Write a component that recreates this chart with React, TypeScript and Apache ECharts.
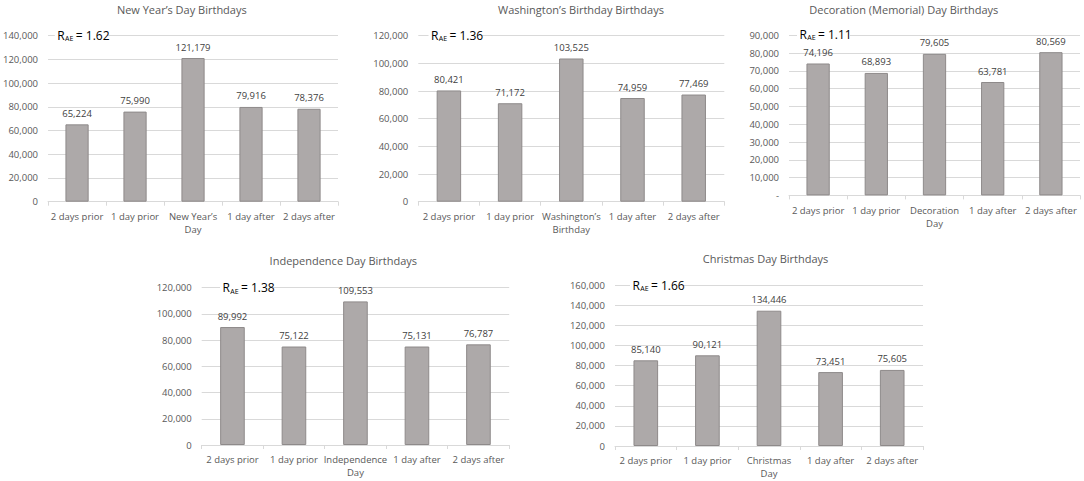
import React, { useEffect, useRef } from "react";
import * as echarts from "echarts";

const titles = [
  "New Year’s Day Birthdays",
  "Washington’s Birthday Birthdays",
  "Decoration (Memorial) Day Birthdays",
  "Independence Day Birthdays",
  "Christmas Day Birthdays",
];
const categories1 = ["2 days prior", "1 day prior", "New Year’s\nDay", "1 day after", "2 days after"];
const categories2 = ["2 days prior", "1 day prior", "Washington’s\nBirthday", "1 day after", "2 days after"];
const categories3 = ["2 days prior", "1 day prior", "Decoration\nDay", "1 day after", "2 days after"];
const categories4 = ["2 days prior", "1 day prior", "Independence\nDay", "1 day after", "2 days after"];
const categories5 = ["2 days prior", "1 day prior", "Christmas\nDay", "1 day after", "2 days after"];

const values1 = [65224, 75990, 121179, 79916, 78376];
const values2 = [80421, 71172, 103525, 74959, 77469];
const values3 = [74196, 68893, 79605, 63781, 80569];
const values4 = [89992, 75122, 109553, 75131, 76787];
const values5 = [85140, 90121, 134446, 73451, 75605];

const ratios = ["1.62", "1.36", "1.11", "1.38", "1.66"];
const yMax = [140000, 120000, 90000, 120000, 160000];
const yInterval = [20000, 20000, 10000, 20000, 20000];

const allCategories = [categories1, categories2, categories3, categories4, categories5];
const allValues = [values1, values2, values3, values4, values5];

// layout (px)
const grids = [
  { left: 47.7, top: 35.7, width: 290.3, height: 166 },
  { left: 418.3, top: 35.7, width: 306, height: 166 },
  { left: 789, top: 35.4, width: 291, height: 160 },
  { left: 201.7, top: 287.7, width: 307.5, height: 157.3 },
  { left: 615, top: 285, width: 308, height: 161 },
];
const titlePos = [
  [181.8, 9.5],
  [581, 9.5],
  [903.8, 9.5],
  [343.3, 260],
  [765.5, 258.5],
];
const ratioPos = [
  [57.3, 35.2],
  [431, 35.2],
  [799.5, 34.2],
  [222.5, 287.7],
  [632.5, 285],
];

const FONT = "'Open Sans', sans-serif";
const fmt = (v: number) => v.toLocaleString("en-US");

export default function App() {
  const ref = useRef<HTMLDivElement>(null);
  useEffect(() => {
    document.body.style.margin = "0";
    const chart = echarts.init(ref.current!, null, { renderer: "svg" });
    const option: any = {
      animation: false,
      backgroundColor: "#ffffff",
      grid: grids.map((g) => ({ ...g, containLabel: false })),
      xAxis: allCategories.map((cats, i) => ({
        type: "category",
        gridIndex: i,
        data: cats,
        boundaryGap: true,
        axisLine: { show: true, lineStyle: { color: "#D9D9D9", width: 1 } },
        axisTick: { show: true, alignWithLabel: false, length: 4, lineStyle: { color: "#D9D9D9" } },
        axisLabel: {
          interval: 0,
          color: "#595959",
          fontFamily: FONT,
          fontSize: 9.5,
          margin: 8,
          lineHeight: 13.3,
        },
      })),
      yAxis: allValues.map((_, i) => ({
        type: "value",
        gridIndex: i,
        min: 0,
        max: yMax[i],
        interval: yInterval[i],
        axisLine: { show: false },
        axisTick: { show: false },
        splitLine: { show: true, lineStyle: { color: "#D9D9D9", width: 1 } },
        axisLabel: {
          color: "#595959",
          fontFamily: FONT,
          fontSize: 9.5,
          margin: 10,
          formatter: (v: number) => (v === 0 ? (i === 2 ? "-" : "0") : fmt(v)),
        },
      })),
      series: allValues.map((vals, i) => ({
        type: "bar",
        xAxisIndex: i,
        yAxisIndex: i,
        data: vals,
        barWidth: "40%",
        itemStyle: { color: "#ADA9A9", borderColor: "#8E8A8A", borderWidth: 1 },
        label: {
          show: true,
          position: "top",
          distance: 6,
          color: "#404040",
          fontFamily: FONT,
          fontSize: 9.5,
          formatter: (p: any) => fmt(p.value),
        },
      })),
      graphic: [
        ...titles.map((t, i) => ({
          type: "text",
          x: titlePos[i][0],
          y: titlePos[i][1],
          z: 100,
          style: {
            text: t,
            align: "center",
            verticalAlign: "middle",
            fill: "#595959",
            font: `11px ${FONT}`,
          },
        })),
        ...ratios.map((r, i) => ({
          type: "group",
          x: ratioPos[i][0],
          y: ratioPos[i][1],
          z: 100,
          children: [
            {
              type: "rect",
              z: 100,
              shape: { x: -2.5, y: -7, width: 53, height: 14 },
              style: { fill: "#ffffff" },
            },
            {
              type: "text",
              z: 101,
              x: 0,
              y: 0,
              style: { text: "R", align: "left", verticalAlign: "middle", fill: "#000000", font: `12px ${FONT}` },
            },
            {
              type: "text",
              z: 101,
              x: 7.8,
              y: 3.6,
              style: { text: "AE", align: "left", verticalAlign: "middle", fill: "#000000", font: `7px ${FONT}` },
            },
            {
              type: "text",
              z: 101,
              x: 18.5,
              y: 0,
              style: { text: `= ${r}`, align: "left", verticalAlign: "middle", fill: "#000000", font: `12px ${FONT}` },
            },
          ],
        })),
      ],
    };
    chart.setOption(option);
    return () => chart.dispose();
  }, []);
  return <div ref={ref} style={{ width: 1084, height: 481 }} />;
}
